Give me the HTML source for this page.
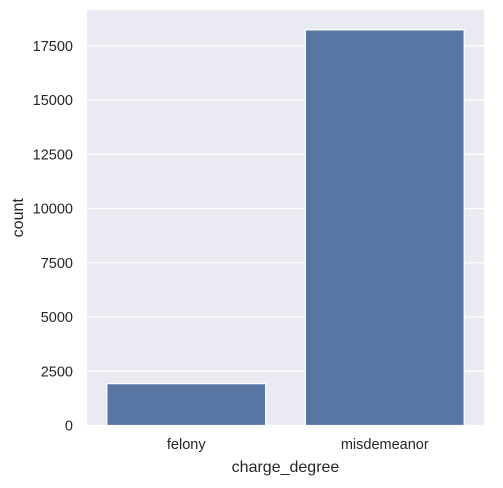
<!DOCTYPE html>
<html><head><style>
body{margin:0;background:#fff;}
svg text{font-family:"Liberation Sans",sans-serif;fill:#262626;}
</style></head><body>
<svg id="c" width="503" height="483"></svg>
<script>
const categories=["felony","misdemeanor"];
const counts=[1930,18240];
const yTicks=[0,2500,5000,7500,10000,12500,15000,17500];
const ns="http://www.w3.org/2000/svg";
const svg=document.getElementById('c');
const L=87,R=484,T=10,B=425.5,ymax=19155;
const y=v=>B-(v/ymax)*(B-T);
const band=(R-L)/categories.length;
const x=i=>L+band*i+band*0.1;
function mk(t,a){const e=document.createElementNS(ns,t);for(const k in a)e.setAttribute(k,a[k]);svg.appendChild(e);return e;}
const bg=mk('rect',{x:L,y:T,width:R-L,height:B-T,fill:'#eaeaf2'});


yTicks.forEach(t=>{
  const g=mk('line',{x1:L,x2:R,y1:y(t),y2:y(t),stroke:'#fff','stroke-width':1.2});
  
  
  const tx=mk('text',{x:L-14,y:y(t)+5,'text-anchor':'end','font-size':14.5});
  tx.textContent=t;
  
  
});
categories.forEach((c,i)=>{
  const b=mk('rect',{x:x(i),y:y(counts[i]),width:band*0.8,height:B-y(counts[i]),fill:'#5975a4',stroke:'#fff','stroke-width':1.2});
  
  
  const tx=mk('text',{x:L+band*(i+0.5),y:449,'text-anchor':'middle','font-size':14.5});
  tx.textContent=c;
  
  
});
const xt=mk('text',{x:(L+R)/2,y:472,'text-anchor':'middle','font-size':16});
xt.textContent='charge_degree';


const yt=mk('text',{x:23,y:(T+B)/2,'text-anchor':'middle','font-size':16,transform:`rotate(-90 23 ${(T+B)/2})`});
yt.textContent='count';


</script>
</body></html>
